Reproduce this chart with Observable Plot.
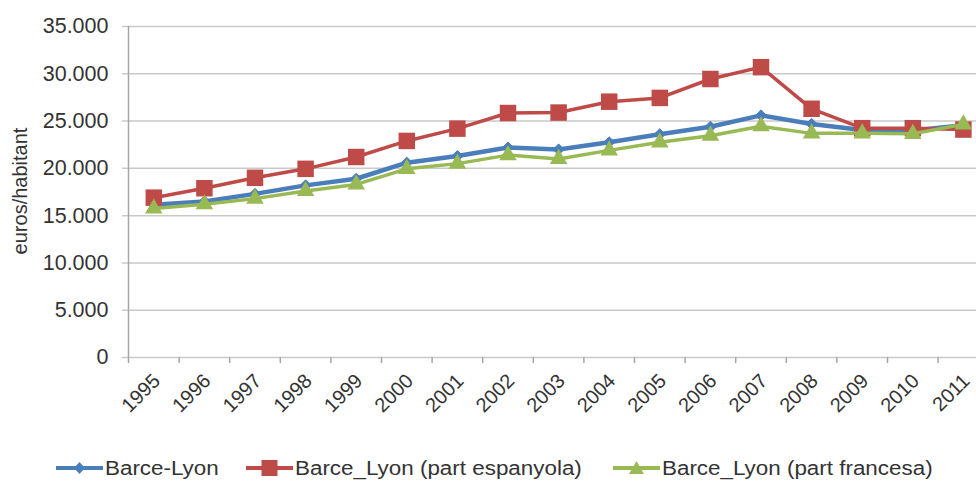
<!DOCTYPE html>
<html>
<head>
<meta charset="utf-8">
<script src="https://cdn.jsdelivr.net/npm/d3@7"></script>
<script src="https://cdn.jsdelivr.net/npm/@observablehq/plot@0.6"></script>
<style>
  html, body { margin: 0; padding: 0; background: #fff; }
  body { width: 976px; height: 487px; overflow: hidden; position: relative; font-family: "Liberation Sans", Arial, sans-serif; }
  #legend { position: absolute; left: 0; top: 450px; width: 976px; height: 36px; }
  .item { position: absolute; top: 0; height: 36px; display: flex; align-items: center; font-size: 20px; color: #333; white-space: nowrap; }
  .item svg { margin-right: 2px; }
  .item span { display: inline-block; transform: scaleX(1.12); transform-origin: left center; }
</style>
</head>
<body>
<div id="chart"></div>
<div id="legend"></div>
<script>
const years = [1995, 1996, 1997, 1998, 1999, 2000, 2001, 2002, 2003, 2004, 2005, 2006, 2007, 2008, 2009, 2010, 2011];
const barceLyon = [16150, 16500, 17300, 18200, 18900, 20600, 21300, 22200, 22000, 22750, 23600, 24400, 25600, 24700, 24050, 24000, 24550];
const partEspanyola = [16900, 17900, 19000, 19950, 21200, 22900, 24200, 25850, 25900, 27050, 27450, 29450, 30700, 26300, 24250, 24250, 24100];
const partFrancesa = [15750, 16200, 16800, 17600, 18300, 19950, 20500, 21400, 21000, 21900, 22750, 23450, 24450, 23700, 23700, 23650, 24650];
const yTicks = [0, 5000, 10000, 15000, 20000, 25000, 30000, 35000];
const seriesNames = ["Barce-Lyon", "Barce_Lyon (part espanyola)", "Barce_Lyon (part francesa)"];

const blue = "#4a7ebb", red = "#be4b48", green = "#98b954";
const fmt = d => d === 0 ? "0" : d3.format(",")(d).replace(/,/g, ".");
const boundaries = years.map(y => y - 0.5).concat([years[years.length - 1] + 0.5]);

const W = 976, H = 445;
const plot = Plot.plot({
  width: W,
  height: H,
  marginLeft: 128,
  marginRight: 0,
  marginTop: 26,
  marginBottom: H - 357,
  style: { fontFamily: "Liberation Sans, Arial, sans-serif", fontSize: "20px", color: "#333", background: "#fff", overflow: "hidden" },
  x: { type: "linear", domain: [years[0] - 0.5, years[years.length - 1] + 0.5], range: [128, 128 + 50.6 * years.length], axis: null },
  y: { domain: [0, 35000], axis: null },
  marks: [
    Plot.ruleY(yTicks, { stroke: "#c9c9c9", strokeWidth: 1.5, insetLeft: -6 }),
    Plot.ruleX([boundaries[0]], { y1: 0, y2: 35000, stroke: "#a6a6a6", strokeWidth: 1.5 }),
    Plot.ruleX(boundaries, { y1: 0, y2: 0, insetBottom: -6, stroke: "#a6a6a6", strokeWidth: 1.5 }),
    Plot.text(yTicks, { x: boundaries[0], y: d => d, text: fmt, textAnchor: "end", dx: -20, fill: "#333", fontSize: 21.5 }),
    Plot.text(years, { x: d => d, y: 0, text: d => String(d), rotate: -45, textAnchor: "end", dx: 3, dy: 20, fill: "#333", fontSize: 20 }),
    Plot.line(years, { x: d => d, y: (d, i) => barceLyon[i], stroke: blue, strokeWidth: 4.5 }),
    Plot.dot(years, { x: d => d, y: (d, i) => barceLyon[i], symbol: "diamond2", r: 5, fill: blue, stroke: blue, strokeWidth: 1 }),
    Plot.line(years, { x: d => d, y: (d, i) => partEspanyola[i], stroke: red, strokeWidth: 3.5 }),
    Plot.dot(years, { x: d => d, y: (d, i) => partEspanyola[i], symbol: "square", r: 9.3, fill: red, stroke: "none" }),
    Plot.line(years, { x: d => d, y: (d, i) => partFrancesa[i], stroke: green, strokeWidth: 3.5 }),
    Plot.dot(years, { x: d => d, y: (d, i) => partFrancesa[i], symbol: "triangle", r: 6.5, fill: green, stroke: "none" })
  ]
});

// y-axis title
const svg = d3.select(plot);
svg.append("text")
  .attr("transform", "translate(22,191) rotate(-90)")
  .attr("text-anchor", "middle")
  .attr("dominant-baseline", "middle")
  .attr("font-size", 20)
  .attr("fill", "#333")
  .text("euros/habitant");

document.getElementById("chart").appendChild(plot);

// legend
const legend = document.getElementById("legend");
const legendX = [56, 246, 613];
const colors = [blue, red, green];
const shapes = [
  c => `<path d="M23.5,4 L29,10 L23.5,16 L18,10 Z" fill="${c}"/>`,
  c => `<rect x="15.5" y="2" width="16" height="16" fill="${c}"/>`,
  c => `<path d="M23.5,3 L31,16 L16,16 Z" fill="${c}"/>`
];
seriesNames.forEach((name, i) => {
  const div = document.createElement("div");
  div.className = "item";
  div.style.left = legendX[i] + "px";
  div.innerHTML = `<svg width="47" height="20"><line x1="0" x2="47" y1="10" y2="10" stroke="${colors[i]}" stroke-width="4"/>${shapes[i](colors[i])}</svg><span>${name}</span>`;
  legend.appendChild(div);
});
</script>
</body>
</html>
